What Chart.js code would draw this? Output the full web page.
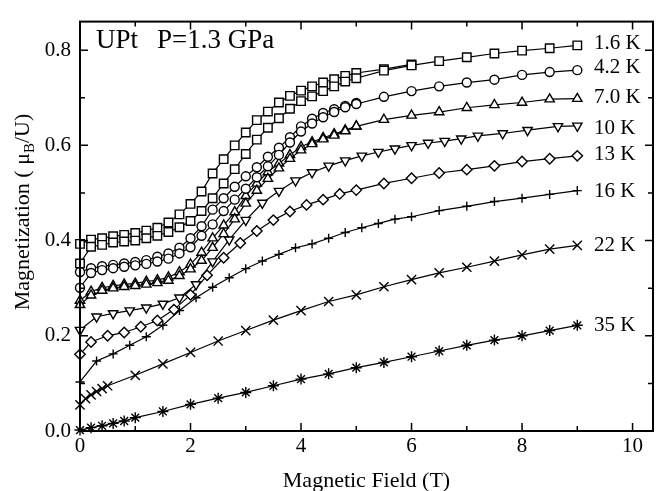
<!DOCTYPE html>
<html>
<head>
<meta charset="utf-8">
<script src="https://cdn.jsdelivr.net/npm/chart.js@4"></script>
<style>html,body{margin:0;padding:0;background:#fff}</style>
</head>
<body>
<canvas id="chart" width="672" height="491"></canvas>
<script>
// field values (T)
const fieldA = [0, 0.2, 0.4, 0.6, 0.8, 1.0, 1.2, 1.4, 1.6, 1.8, 2.0, 2.2, 2.4, 2.6, 2.8, 3.0, 3.2, 3.4, 3.6, 3.8,
                4.0, 4.2, 4.4, 4.6, 4.8, 5.0, 5.5, 6.0, 6.5, 7.0, 7.5, 8.0, 8.5, 9.0];
const fieldB = [0, 0.2, 0.4, 0.6, 0.8, 1.0, 1.2, 1.4, 1.6, 1.8, 2.0, 2.2, 2.4, 2.6, 2.8, 3.0, 3.2, 3.4, 3.6, 3.8,
                4.0, 4.2, 4.4, 4.6, 4.8, 5.0, 5.5, 6.0];
const field10 = [0, 0.3, 0.6, 0.9, 1.2, 1.5, 1.8, 2.1, 2.4, 2.7, 3.0, 3.3, 3.6, 3.9, 4.2, 4.5, 4.8, 5.1, 5.4, 5.7,
                 6.0, 6.3, 6.6, 6.9, 7.2, 7.65, 8.1, 8.65, 9.0];
const field13 = [0, 0.2, 0.5, 0.8, 1.1, 1.4, 1.7, 2.0, 2.3, 2.6, 2.9, 3.2, 3.5, 3.8, 4.1, 4.4, 4.7, 5.0, 5.5, 6.0,
                 6.5, 7.0, 7.5, 8.0, 8.5, 9.0];
const field16 = [0, 0.3, 0.6, 0.9, 1.2, 1.5, 1.8, 2.1, 2.4, 2.7, 3.0, 3.3, 3.6, 3.9, 4.2, 4.5, 4.8, 5.1, 5.4, 5.7,
                 6.0, 6.5, 7.0, 7.5, 8.0, 8.5, 9.0];
const field22 = [0, 0.1, 0.2, 0.3, 0.4, 0.5, 1.0, 1.5, 2.0, 2.5, 3.0, 3.5, 4.0, 4.5, 5.0, 5.5, 6.0, 6.5, 7.0, 7.5,
                 8.0, 8.5, 9.0];
const field35 = [0, 0.2, 0.4, 0.6, 0.8, 1.0, 1.5, 2.0, 2.5, 3.0, 3.5, 4.0, 4.5, 5.0, 5.5, 6.0, 6.5, 7.0, 7.5, 8.0,
                 8.5, 9.0];

// magnetization (muB/U)
const m16up = [0.352, 0.387, 0.391, 0.396, 0.398, 0.400, 0.405, 0.410, 0.418, 0.428, 0.441, 0.462, 0.489, 0.520,
               0.550, 0.582, 0.612, 0.637, 0.657, 0.677, 0.693, 0.703, 0.714, 0.724, 0.734, 0.741, 0.757, 0.768,
               0.777, 0.785, 0.793, 0.799, 0.804, 0.810];
const m16down = [0.393, 0.402, 0.405, 0.409, 0.412, 0.416, 0.421, 0.427, 0.438, 0.455, 0.477, 0.503, 0.541, 0.571,
                 0.600, 0.627, 0.653, 0.671, 0.690, 0.704, 0.715, 0.724, 0.732, 0.739, 0.746, 0.752, 0.760, 0.770];
const m42up = [0.301, 0.332, 0.338, 0.342, 0.345, 0.348, 0.351, 0.356, 0.362, 0.373, 0.386, 0.410, 0.434, 0.462,
               0.486, 0.509, 0.533, 0.556, 0.580, 0.606, 0.629, 0.646, 0.659, 0.670, 0.680, 0.687, 0.702, 0.714,
               0.724, 0.732, 0.738, 0.748, 0.754, 0.758];
const m42down = [0.334, 0.342, 0.346, 0.349, 0.352, 0.355, 0.359, 0.366, 0.373, 0.385, 0.405, 0.430, 0.465, 0.489,
                 0.513, 0.535, 0.554, 0.576, 0.595, 0.617, 0.640, 0.656, 0.668, 0.676, 0.683, 0.689];
const m70up = [0.265, 0.285, 0.295, 0.300, 0.303, 0.305, 0.308, 0.311, 0.316, 0.326, 0.340, 0.358, 0.385, 0.414,
               0.445, 0.478, 0.505, 0.530, 0.552, 0.572, 0.590, 0.603, 0.613, 0.621, 0.630, 0.640, 0.654, 0.663,
               0.670, 0.679, 0.685, 0.690, 0.697, 0.698];
const m70down = [0.274, 0.293, 0.301, 0.305, 0.308, 0.310, 0.314, 0.317, 0.323, 0.334, 0.350, 0.375, 0.405, 0.432,
                 0.460, 0.494, 0.520, 0.544, 0.562, 0.580, 0.597, 0.607, 0.616, 0.624, 0.632, 0.640];
const m10 = [0.212, 0.240, 0.247, 0.253, 0.259, 0.267, 0.280, 0.308, 0.356, 0.402, 0.443, 0.479, 0.504, 0.526,
             0.543, 0.557, 0.568, 0.578, 0.586, 0.593, 0.600, 0.605, 0.609, 0.614, 0.620, 0.625, 0.632, 0.640, 0.641];
const m13 = [0.161, 0.187, 0.200, 0.207, 0.219, 0.232, 0.255, 0.286, 0.327, 0.364, 0.395, 0.420, 0.443, 0.461,
             0.475, 0.486, 0.498, 0.506, 0.520, 0.531, 0.542, 0.549, 0.557, 0.566, 0.572, 0.578];
const m16 = [0.103, 0.147, 0.162, 0.180, 0.198, 0.222, 0.253, 0.280, 0.302, 0.322, 0.341, 0.357, 0.371, 0.385,
             0.393, 0.405, 0.417, 0.427, 0.436, 0.445, 0.450, 0.463, 0.472, 0.482, 0.489, 0.497, 0.505];
const m22 = [0.055, 0.068, 0.076, 0.083, 0.089, 0.095, 0.117, 0.141, 0.165, 0.189, 0.211, 0.233, 0.253, 0.272,
             0.286, 0.303, 0.318, 0.332, 0.344, 0.357, 0.370, 0.382, 0.390];
const m35 = [0.002, 0.007, 0.011, 0.016, 0.021, 0.028, 0.041, 0.056, 0.069, 0.081, 0.095, 0.109, 0.120, 0.133,
             0.144, 0.156, 0.168, 0.180, 0.191, 0.200, 0.211, 0.222];

const tempLabels = ['1.6 K', '4.2 K', '7.0 K', '10 K', '13 K', '16 K', '22 K', '35 K'];
const tempLabelY = [0.815, 0.764, 0.701, 0.636, 0.580, 0.503, 0.390, 0.222];
const xTicks = [0, 2, 4, 6, 8, 10];
const xMinor = [1, 3, 5, 7, 9];
const yTicks = [0, 0.2, 0.4, 0.6, 0.8];
const yMinor = [0.1, 0.3, 0.5, 0.7];

const serif = '"Liberation Serif", "DejaVu Serif", serif';
Chart.defaults.font.family = serif;
Chart.defaults.color = '#000';

function series(fields, mags, style, radius, rotation) {
    return {
        data: fields.map((x, i) => ({x: x, y: mags[i]})),
        showLine: true,
        borderColor: '#000',
        borderWidth: 1.2,
        pointStyle: style,
        pointRadius: radius,
        pointRotation: rotation || 0,
        pointBackgroundColor: '#fff',
        pointBorderColor: '#000',
        pointBorderWidth: 1.4,
        clip: false
    };
}

const frame = {
    id: 'frame',
    afterDraw(chart) {
        const c = chart.ctx;
        const a = chart.chartArea;
        const xs = chart.scales.x, ys = chart.scales.y;
        c.save();
        c.strokeStyle = '#000';
        c.lineWidth = 2;
        c.strokeRect(a.left, a.top, a.right - a.left, a.bottom - a.top);
        c.lineWidth = 1.5;
        c.beginPath();
        const xt = (v, len) => {
            const p = xs.getPixelForValue(v);
            c.moveTo(p, a.bottom); c.lineTo(p, a.bottom - len);
            c.moveTo(p, a.top); c.lineTo(p, a.top + len);
        };
        const yt = (v, len) => {
            const p = ys.getPixelForValue(v);
            c.moveTo(a.left, p); c.lineTo(a.left + len, p);
            c.moveTo(a.right, p); c.lineTo(a.right - len, p);
        };
        xTicks.forEach(v => xt(v, 8));
        xMinor.forEach(v => xt(v, 5));
        yTicks.forEach(v => yt(v, 8));
        yMinor.forEach(v => yt(v, 5));
        c.stroke();

        c.fillStyle = '#000';
        c.font = '21px ' + serif;
        c.textBaseline = 'middle';
        c.textAlign = 'left';
        tempLabels.forEach((t, i) => {
            c.fillText(t, xs.getPixelForValue(9.3), ys.getPixelForValue(tempLabelY[i]));
        });

        c.textBaseline = 'alphabetic';
        c.font = '27px ' + serif;
        c.fillText('UPt', 96, 48);
        c.fillText('P=1.3 GPa', 157, 48);

        c.font = '22px ' + serif;
        c.textAlign = 'center';
        c.fillText('Magnetic Field (T)', (a.left + a.right) / 2, 487);

        // y title with subscript
        c.translate(29, 212);
        c.rotate(-Math.PI / 2);
        const p1 = 'Magnetization ( \u03bc', sub = 'B', p2 = '/U)';
        c.font = '22px ' + serif;
        const w1 = c.measureText(p1).width, w3 = c.measureText(p2).width;
        c.font = '15px ' + serif;
        const w2 = c.measureText(sub).width;
        let x0 = -(w1 + w2 + w3) / 2;
        c.textAlign = 'left';
        c.font = '22px ' + serif;
        c.fillText(p1, x0, 0);
        c.font = '15px ' + serif;
        c.fillText(sub, x0 + w1, 5);
        c.font = '22px ' + serif;
        c.fillText(p2, x0 + w1 + w2, 0);
        c.restore();
    }
};

new Chart(document.getElementById('chart'), {
    type: 'scatter',
    data: {
        datasets: [
            series(fieldA, m16up, 'rect', 6),
            series(fieldB, m16down, 'rect', 6),
            series(fieldA, m42up, 'circle', 4.5),
            series(fieldB.slice(0, m42down.length), m42down, 'circle', 4.5),
            series(fieldA, m70up, 'triangle', 5.4),
            series(fieldB.slice(0, m70down.length), m70down, 'triangle', 5.4),
            series(field10, m10, 'triangle', 5.4, 180),
            series(field13, m13, 'rectRot', 5.2),
            series(field16, m16, 'cross', 4.5),
            series(field22, m22, 'crossRot', 6.5),
            series(field35, m35, 'star', 5.5)
        ]
    },
    options: {
        responsive: false,
        animation: false,
        layout: {padding: {top: 11, right: 19, left: 0, bottom: 0}},
        plugins: {legend: {display: false}, tooltip: {enabled: false}},
        scales: {
            x: {
                type: 'linear',
                min: 0,
                max: 10.37,
                grid: {display: false, drawTicks: false},
                border: {display: false},
                afterBuildTicks: s => { s.ticks = xTicks.map(v => ({value: v})); },
                afterFit: s => { s.height = 60; },
                ticks: {font: {size: 21}, padding: 3, maxRotation: 0}
            },
            y: {
                min: 0,
                max: 0.86,
                grid: {display: false, drawTicks: false},
                border: {display: false},
                afterBuildTicks: s => { s.ticks = yTicks.map(v => ({value: v})); },
                afterFit: s => { s.width = 80; },
                ticks: {font: {size: 21}, padding: 9, callback: v => v.toFixed(1)}
            }
        }
    },
    plugins: [frame]
});
</script>
</body>
</html>
